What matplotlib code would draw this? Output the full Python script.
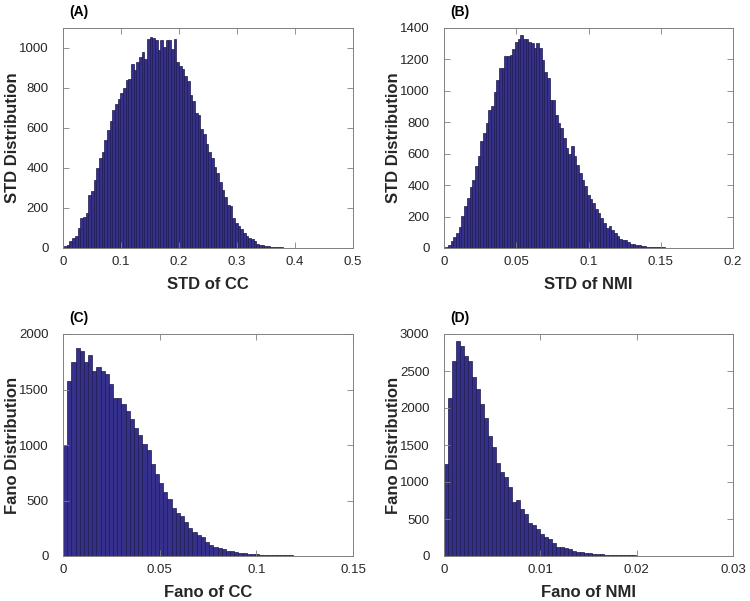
import numpy as np
import matplotlib
import matplotlib.pyplot as plt

matplotlib.use('Agg')

plt.rcParams['font.family'] = ['Liberation Sans', 'DejaVu Sans']

# (A) STD of CC
stdCC_start = 0.002
stdCC_width = 0.0046
stdCC_counts = [8, 17, 33, 50, 58, 100, 149, 154, 174, 265, 287, 340, 398, 451, 481,
                539, 589, 635, 688, 721, 746, 774, 801, 842, 846, 920, 892, 929, 954, 978,
                945, 1045, 1056, 1050, 1041, 990, 1041, 1007, 1041, 1040, 995, 1045, 929, 912, 896,
                862, 837, 763, 733, 675, 663, 597, 572, 522, 481, 448, 406, 373, 332, 290,
                257, 216, 211, 149, 124, 108, 95, 75, 58, 50, 45, 33, 22, 17, 13,
                12, 8, 7, 6, 5, 5, 3, 2, 2, 2, 1, 1, 1, 1]

# (B) STD of NMI
stdNMI_start = 0.001
stdNMI_width = 0.00185
stdNMI_counts = [6, 21, 42, 70, 95, 134, 201, 269, 316, 388, 435, 520, 583, 679, 732,
                 795, 880, 906, 995, 1071, 1146, 1146, 1224, 1224, 1230, 1266, 1309, 1330, 1358, 1330,
                 1330, 1309, 1305, 1273, 1305, 1273, 1199, 1118, 1082, 944, 940, 848, 795, 764, 700,
                 636, 600, 647, 583, 530, 477, 435, 392, 339, 311, 286, 248, 223, 191, 159,
                 127, 142, 117, 95, 74, 57, 53, 49, 36, 28, 23, 19, 21, 15, 11,
                 8, 6, 6, 8, 6, 4, 4, 3, 3, 3, 2, 2, 2, 2, 2,
                 2, 1, 1, 1, 1, 1, 1, 1, 1, 1, 1, 1, 1, 1, 1, 1, 1]

# (C) Fano of CC
fanoCC_start = 0.0
fanoCC_width = 0.00216
fanoCC_counts = [1000, 1577, 1751, 1877, 1850, 1751, 1811, 1667, 1700, 1667, 1640, 1550, 1426, 1426, 1366,
                 1306, 1231, 1150, 1090, 1009, 955, 829, 739, 661, 580, 514, 429, 384, 360, 309,
                 255, 219, 189, 168, 129, 99, 84, 69, 60, 48, 42, 33, 30, 24, 21,
                 18, 15, 12, 10, 9, 8, 7, 6, 5, 5, 4, 4, 3, 3, 3,
                 2, 2, 2, 2, 2, 1, 1, 1, 1, 1]

# (D) Fano of NMI
fanoNMI_start = 0.0
fanoNMI_width = 0.000415
fanoNMI_counts = [1240, 2133, 2639, 2900, 2833, 2697, 2630, 2418, 2255, 2057, 1863, 1624, 1470, 1263, 1141,
                  1065, 938, 735, 758, 631, 568, 451, 419, 361, 298, 253, 226, 180, 126, 117,
                  104, 90, 72, 59, 50, 45, 41, 32, 27, 23, 18, 15, 13, 11, 10,
                  9, 8, 7, 6, 5, 5, 4, 4, 3, 3, 3, 2, 2, 2, 2,
                  2, 1, 1, 1, 1, 1, 1, 1, 1, 1, 1, 1]

panels = [
    ("(A)", stdCC_start, stdCC_width, stdCC_counts, "STD of CC", "STD Distribution",
     [0, 0.1, 0.2, 0.3, 0.4, 0.5], ["0", "0.1", "0.2", "0.3", "0.4", "0.5"], (0, 0.5),
     [0, 200, 400, 600, 800, 1000], (0, 1100)),
    ("(B)", stdNMI_start, stdNMI_width, stdNMI_counts, "STD of NMI", "STD Distribution",
     [0, 0.05, 0.1, 0.15, 0.2], ["0", "0.05", "0.1", "0.15", "0.2"], (0, 0.2),
     [0, 200, 400, 600, 800, 1000, 1200, 1400], (0, 1400)),
    ("(C)", fanoCC_start, fanoCC_width, fanoCC_counts, "Fano of CC", "Fano Distribution",
     [0, 0.05, 0.1, 0.15], ["0", "0.05", "0.1", "0.15"], (0, 0.15),
     [0, 500, 1000, 1500, 2000], (0, 2000)),
    ("(D)", fanoNMI_start, fanoNMI_width, fanoNMI_counts, "Fano of NMI", "Fano Distribution",
     [0, 0.01, 0.02, 0.03], ["0", "0.01", "0.02", "0.03"], (0, 0.03),
     [0, 500, 1000, 1500, 2000, 2500, 3000], (0, 3000)),
]

W, H = 750, 601
# axes boxes in pixels: left, right, top, bottom
boxes = [(63, 353, 28, 248), (444, 733, 28, 248),
         (63, 353, 334, 556), (444, 733, 334, 556)]

fig = plt.figure(figsize=(7.5, 6.01), dpi=100)

faceColor = "#34308c"
edgeColor = "#1e1a4c"
axisColor = "#808080"
textColor = "#262626"

for (tag, start, width, counts, xlab, ylab, xt, xtl, xl, yt, yl), (l, r, t, b) in zip(panels, boxes):
    ax = fig.add_axes([l / W, (H - b) / H, (r - l) / W, (b - t) / H])
    counts = np.array(counts)
    edges = start + width * np.arange(len(counts))
    ax.bar(edges, counts, width=width, align="edge",
           color=faceColor, edgecolor=edgeColor, linewidth=0.5)
    ax.set_xlim(*xl)
    ax.set_ylim(*yl)
    ax.set_xticks(xt)
    ax.set_xticklabels(xtl)
    ax.set_yticks(yt)
    ax.tick_params(direction="in", top=True, right=True, length=4,
                   width=0.6, colors=axisColor, labelcolor=textColor, labelsize=9.5)
    ax.tick_params(axis="x", pad=5.5)
    ax.tick_params(axis="y", pad=10.5)
    for s in ax.spines.values():
        s.set_color(axisColor)
        s.set_linewidth(0.7)
    ax.set_xlabel(xlab, fontsize=12, fontweight="bold", color=textColor)
    ax.set_ylabel(ylab, fontsize=12, fontweight="bold", color=textColor)
    ax.xaxis.set_label_coords(0.5, -0.131)
    ax.yaxis.set_label_coords(-0.148, 0.5)
    ax.text(0.02, 1.04, tag, transform=ax.transAxes, fontsize=10,
            fontweight="bold", color="black", va="bottom", ha="left")

plt.savefig("out.png", dpi=100)
plt.close()
